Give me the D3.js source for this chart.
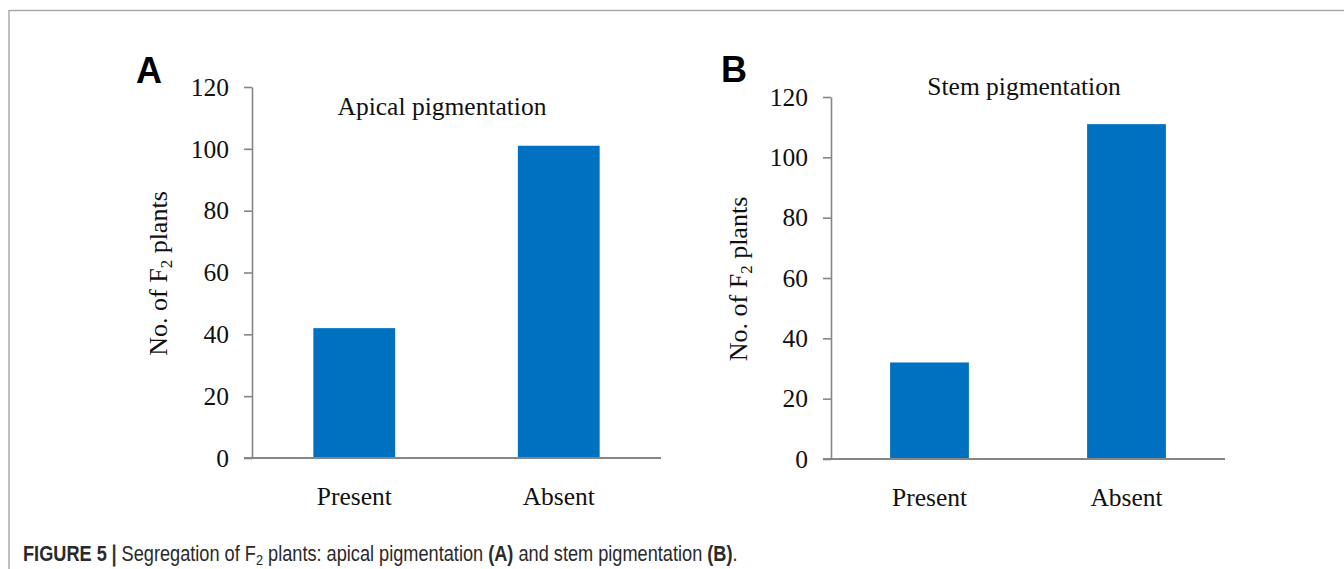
<!DOCTYPE html>
<html>
<head>
<meta charset="utf-8">
<script src="https://cdn.jsdelivr.net/npm/d3@7"></script>
<style>
  body { margin: 0; background: #fff; }
  svg { display: block; }
</style>
</head>
<body>
<div class="fig"></div>
<script>
// data
const categories = ["Present", "Absent"];
const apicalValues = [42, 101];
const stemValues = [32, 111];
const yTicks = [0, 20, 40, 60, 80, 100, 120];

const W = 1344, H = 569;
const serif = "'Liberation Serif', 'Times New Roman', serif";
const axisColor = "#868686";
const barColor = "#0070c0";
const fs = "25.5px";

const svg = d3.select(".fig")
  .append("svg")
    .attr("width", W)
    .attr("height", H);

// frame lines at top and left
svg.append("line").attr("x1", 9).attr("x2", W).attr("y1", 10.5).attr("y2", 10.5)
  .attr("stroke", "#aaa").attr("stroke-width", 1.5);
svg.append("line").attr("x1", 9).attr("x2", 9).attr("y1", 10).attr("y2", H)
  .attr("stroke", "#aaa").attr("stroke-width", 1.5);

const panels = [
  {letter: "A", title: "Apical pigmentation", values: apicalValues,
   x0: 252, x1: 661, yTop: 87, yBottom: 458,
   letterX: 136, letterY: 83, titleX: 442, titleY: 115, labelX: 167},
  {letter: "B", title: "Stem pigmentation", values: stemValues,
   x0: 831, x1: 1225, yTop: 97, yBottom: 459,
   letterX: 721, letterY: 82, titleX: 1024, titleY: 95, labelX: 747}
];

panels.forEach(p => {
  const g = svg.append("g");

  // scales
  const x = d3.scaleBand()
    .domain(categories)
    .range([p.x0, p.x1]);
  const y = d3.scaleLinear()
    .domain([0, 120])
    .range([p.yBottom, p.yTop]);

  // bars
  const bw = x.bandwidth() * 0.4;
  g.selectAll("rect")
    .data(p.values)
    .join("rect")
      .attr("x", (d, i) => x(categories[i]) + (x.bandwidth() - bw) / 2)
      .attr("y", d => y(d))
      .attr("width", bw)
      .attr("height", d => y(0) - y(d))
      .attr("fill", barColor);

  // Y axis
  const yAxis = g.append("g")
    .attr("transform", `translate(${p.x0}, 0)`)
    .call(d3.axisLeft(y).tickValues(yTicks).tickSize(8).tickSizeOuter(0).tickPadding(15));
  yAxis.select(".domain").attr("stroke", axisColor).attr("stroke-width", 1.6);
  yAxis.selectAll(".tick line").attr("stroke", axisColor).attr("stroke-width", 1.6);
  yAxis.selectAll("text")
    .style("font-family", serif)
    .style("font-size", fs)
    .attr("fill", "#111");

  // X axis
  const xAxis = g.append("g")
    .attr("transform", `translate(0, ${y(0)})`)
    .call(d3.axisBottom(x).tickSize(0).tickPadding(29));
  xAxis.select(".domain").remove();
  xAxis.selectAll("text")
    .style("font-family", serif)
    .style("font-size", fs)
    .attr("fill", "#111");
  g.append("line")
    .attr("x1", p.x0 - 8).attr("x2", p.x1)
    .attr("y1", y(0)).attr("y2", y(0))
    .attr("stroke", axisColor).attr("stroke-width", 2);

  // title
  g.append("text")
    .attr("x", p.titleX).attr("y", p.titleY)
    .attr("text-anchor", "middle")
    .style("font-family", serif)
    .style("font-size", fs)
    .attr("fill", "#111")
    .text(p.title);

  // y label
  const yl = g.append("text")
    .attr("transform", `translate(${p.labelX}, ${(p.yTop + p.yBottom) / 2 + 1}) rotate(-90)`)
    .attr("text-anchor", "middle")
    .style("font-family", serif)
    .style("font-size", "26px")
    .attr("fill", "#111");
  yl.append("tspan").text("No. of F");
  yl.append("tspan").attr("dy", 5).style("font-size", "17px").text("2");
  yl.append("tspan").attr("dy", -5).text(" plants");

  // panel letter
  g.append("text")
    .attr("x", p.letterX).attr("y", p.letterY)
    .style("font-family", "'Liberation Sans', Arial, sans-serif")
    .style("font-weight", "bold")
    .style("font-size", "36px")
    .attr("fill", "#000")
    .text(p.letter);
});

// caption
const cap = svg.append("text")
  .attr("y", 0)
  .style("font-family", "'Liberation Sans', Arial, sans-serif")
  .style("font-size", "20px")
  .style("white-space", "pre")
  .attr("fill", "#2a2a2a");
const parts = [
  ["FIGURE 5 ", true], ["| ", false], ["Segregation of F", false], ["2", false, "sub"],
  [" plants: apical pigmentation ", false], ["(A)", true], [" and stem pigmentation ", false],
  ["(B)", true], [".", false]
];
parts.forEach(([t, bold, kind]) => {
  const ts = cap.append("tspan").text(t).style("font-weight", bold ? "bold" : "normal");
  if (t === "| ") ts.attr("stroke", "#2a2a2a").attr("stroke-width", 0.8);
  if (kind === "sub") ts.attr("dy", 4).style("font-size", "14px");
  else if (t.startsWith(" plants")) ts.attr("dy", -4);
});
// squeeze the caption to the width it has in the figure
const capW = cap.node().getComputedTextLength();
const sx = (738 - 23) / capW;
cap.attr("transform", `translate(23, 561) scale(${sx}, 1.06)`);
</script>
</body>
</html>
